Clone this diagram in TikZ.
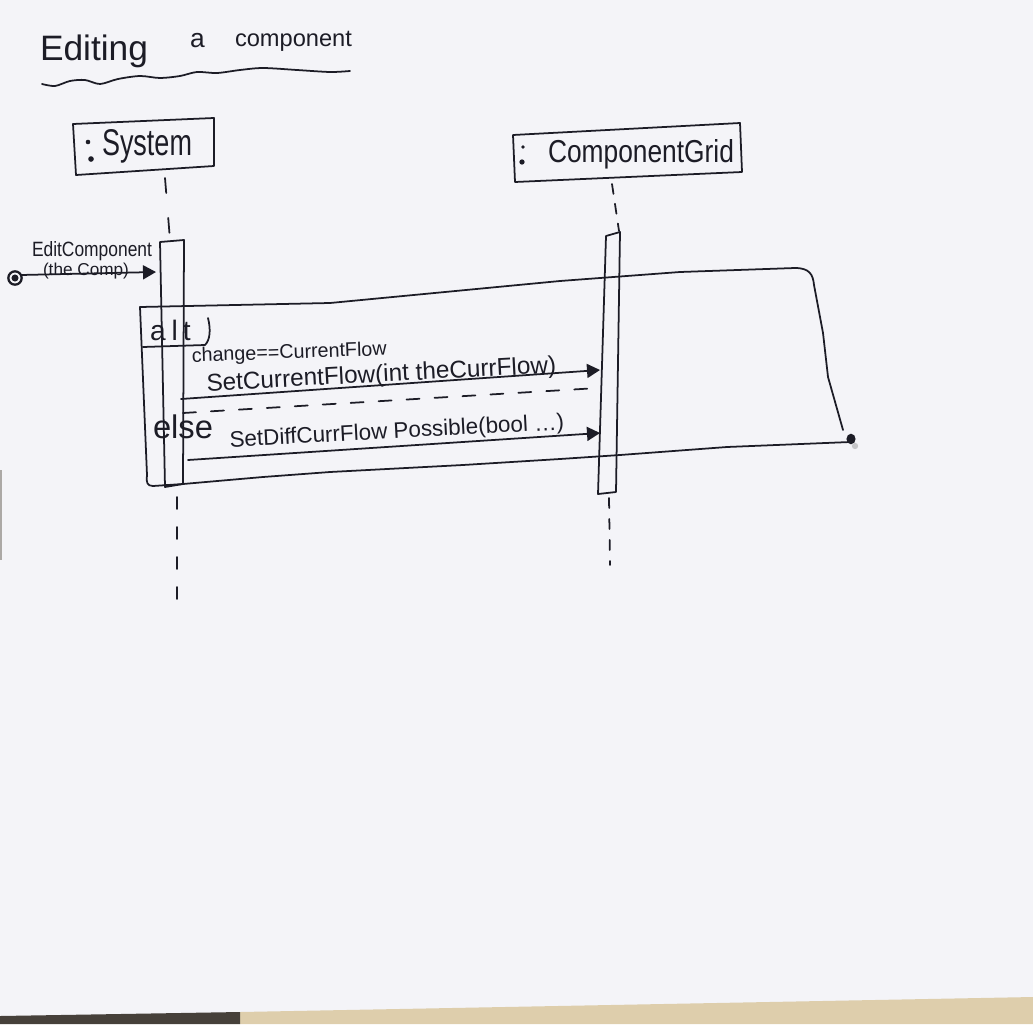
\documentclass[tikz,border=0pt]{standalone}
\usepackage{graphicx}
\usepackage{fontspec}
\setmainfont{Liberation Sans}
\usetikzlibrary{arrows.meta}
\definecolor{paper}{RGB}{244,244,248}
\definecolor{ink}{RGB}{28,28,38}
\definecolor{desk}{RGB}{222,206,172}
\definecolor{deskdark}{RGB}{70,64,58}
% hand-lettered text boxes: fixed width (and optionally height)
\newcommand{\handw}[2]{\resizebox{#1}{!}{#2}}
\newcommand{\handwh}[3]{\resizebox{#1}{#2}{#3}}

\begin{document}
\begin{tikzpicture}[x=0.02cm,y=-0.02cm,
  pen/.style={draw=ink,line width=1pt,line cap=round,line join=round},
  lbl/.style={inner sep=0pt,outer sep=0pt,anchor=base west,text=ink},
  lifeline/.style={pen,dash pattern=on 0.24cm off 0.36cm},
  msg/.style={pen,-{Triangle[length=0.26cm,width=0.28cm]}},
  sepline/.style={pen,dash pattern=on 0.26cm off 0.3cm}]

\useasboundingbox (0,0) rectangle (1033,1024);
% sheet of paper on the desk
\fill[paper] (0,0) rectangle (1033,1024);
\fill[desk] (240,1012) -- (1033,997) -- (1033,1024) -- (240,1024) -- cycle;
\fill[deskdark] (0,1016) -- (240,1012) -- (240,1024) -- (0,1024) -- cycle;
\fill[deskdark!45] (0,470) rectangle (2,560);

% title
\node[lbl] (t1) at (40,60) {\handw{2.16cm}{Editing}};
\node[lbl] (t2) at (190,48) {\fontsize{15pt}{15pt}\selectfont a};
\node[lbl] (t3) at (235,47) {\handw{2.34cm}{component}};
\draw[pen] plot[smooth] coordinates {(42,84) (55,86) (70,81) (85,80) (100,84) (118,79) (140,76) (160,78) (180,76) (197,72) (217,73) (240,70) (263,68) (297,70) (330,72) (350,71)};

% participant System
\draw[pen] (73,124) -- (214,118) -- (214,166) -- (76,175) -- cycle;
\fill[ink] (88,142) circle (1.3pt);
\fill[ink] (91,159) circle (1.6pt);
\node[lbl] (sys) at (102,155) {\handwh{1.8cm}{0.52cm}{System}};

% participant ComponentGrid
\draw[pen] (513,135) -- (740,123) -- (742,172) -- (515,182) -- cycle;
\fill[ink] (523,147) circle (1.1pt);
\fill[ink] (522,162) circle (1.5pt);
\node[lbl] (grid) at (548,162) {\handwh{3.72cm}{0.46cm}{ComponentGrid}};

% lifelines and activations
\coordinate (sysL1) at (165,178);
\coordinate (sysL2) at (170,240);
\coordinate (sysL3) at (177,497);
\coordinate (sysL4) at (177,605);
\coordinate (sA1) at (160,242);
\coordinate (sA2) at (184,240);
\coordinate (sA3) at (183,484);
\coordinate (sA4) at (165,487);
\draw[lifeline,dash pattern=on 0.3cm off 0.5cm] (sysL1) -- (sysL2);
\draw[pen] (sA1) -- (sA2) -- (sA3) -- (sA4) -- cycle;
\draw[lifeline] (sysL3) -- (sysL4);

\coordinate (gL1) at (612,184);
\coordinate (gL2) at (619,231);
\coordinate (gL3) at (609,498);
\coordinate (gL4) at (610,565);
\coordinate (cA1) at (606,236);
\coordinate (cA2) at (620,232);
\coordinate (cA3) at (616,492);
\coordinate (cA4) at (598,494);
\draw[pen,dash pattern=on 0.2cm off 0.2cm] (gL1) -- (gL2);
\draw[pen] (cA1) -- (cA2) -- (cA3) -- (cA4) -- cycle;
\draw[pen,dash pattern=on 0.2cm off 0.22cm] (gL3) -- (gL4);

% found message
\coordinate (found) at (15,278);
\coordinate (emTip) at (156,272);
\draw[pen,line width=1.3pt] (found) circle (3.8pt);
\fill[ink] (found) circle (2pt);
\draw[msg] (found) ++(6,-3) -- (emTip);
\node[lbl] (em1) at (32,256) {\handwh{2.4cm}{0.3cm}{EditComponent}};
\node[lbl] (em2) at (43,275) {\handw{1.72cm}{(the Comp)}};

% alt fragment
\draw[pen] (140,307) -- (330,303) -- (560,281) -- (680,272) -- (795,268)
  .. controls (810,268) and (813,275) .. (814,285) -- (823,333) -- (828,377) -- (843,430);
\draw[pen] (850,442) -- (727,447) -- (620,455) -- (560,459) -- (463,465) -- (330,472)
  -- (263,477) -- (183,484) -- (153,486) .. controls (147,486) and (146,482) .. (147,475) -- (140,307);
\fill[ink] (851,439) ellipse (2.6pt and 3pt);
\fill[ink!25] (855,446) circle (1.8pt);
\draw[pen] (143,347) -- (205,345) .. controls (210,340) and (211,330) .. (208,318);
\node[lbl] (alt) at (150,340) {\fontsize{16pt}{16pt}\selectfont a\hspace{0.12cm}l\hspace{0.1cm}t};

% first operand
\node[lbl,rotate=2] (guard) at (192,362) {\handw{3.9cm}{change==CurrentFlow}};
\node[lbl,rotate=3] (m1lbl) at (207,391) {\handw{7.0cm}{SetCurrentFlow(int theCurrFlow)}};
\coordinate (m1s) at (181,399);
\coordinate (m1e) at (600,370);
\draw[msg] (m1s) -- (m1e);

% operand separator
\coordinate (sep1) at (183,413);
\coordinate (sep2) at (598,388);
\draw[sepline] (sep1) -- (sep2);

% else operand
\node[lbl] (else) at (153,438) {\handw{1.2cm}{else}};
\node[lbl,rotate=3] (m2lbl) at (230,447) {\handw{6.7cm}{SetDiffCurrFlow Possible(bool …)}};
\coordinate (m2s) at (188,460);
\coordinate (m2e) at (600,433);
\draw[msg] (m2s) -- (m2e);

\end{tikzpicture}
\end{document}
